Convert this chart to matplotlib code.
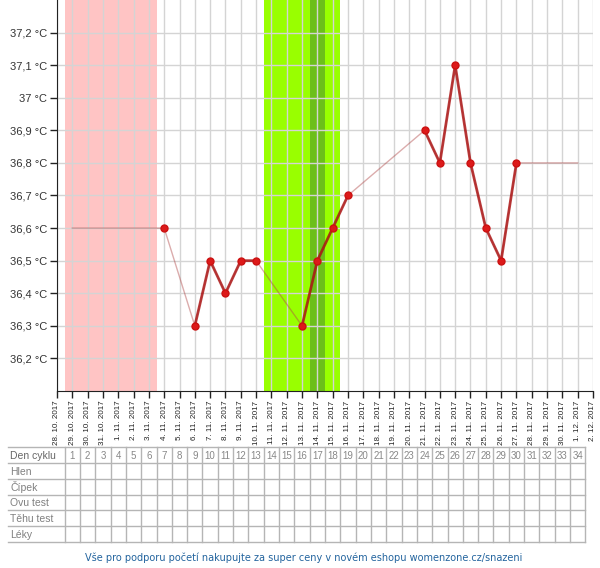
import numpy as np
import pandas as pd
import matplotlib
matplotlib.use('Agg')
import matplotlib.pyplot as plt

# x axis: one tick per day, 28.10.2017 .. 2.12.2017
days = pd.date_range('2017-10-28', '2017-12-02')
date_labels = [f"{d.day}. {d.month}. {d.year}" for d in days]

# cycle day 1 = 29.10.2017, temperatures per cycle day (None = not measured)
cycle_days = list(range(1, 35))
temps = [None, None, None, None, None, None, 36.6, None, 36.3, 36.5,
         36.4, 36.5, 36.5, None, None, 36.3, 36.5, 36.6, 36.7, None,
         None, None, None, 36.9, 36.8, 37.1, 36.8, 36.6, 36.5, 36.8,
         None, None, None, None]

period_days = (1, 6)        # menstruation
fertile_days = (14, 18)     # fertile window
ovulation_day = 17

y_ticks = [36.2, 36.3, 36.4, 36.5, 36.6, 36.7, 36.8, 36.9, 37.0, 37.1, 37.2]
row_labels = ['Den cyklu', 'Hlen', 'Čípek', 'Ovu test', 'Těhu test', 'Léky']
footer = 'Vše pro podporu početí nakupujte za super ceny v novém eshopu womenzone.cz/snazeni'

plt.rcParams['font.family'] = ['Liberation Sans', 'DejaVu Sans']

W, H = 600, 568
fig = plt.figure(figsize=(W / 100, H / 100), dpi=100)
ax = fig.add_axes([57 / W, 1 - 391 / H, 536 / W, 391 / H])

x = np.array(cycle_days, dtype=float)
t = np.array([np.nan if v is None else v for v in temps])
ok = ~np.isnan(t)

# bands
ax.axvspan(period_days[0] - 0.5, period_days[1] + 0.5, color='#ffc4c4', lw=0, zorder=0.1)
ax.axvspan(fertile_days[0] - 0.5, fertile_days[1] + 0.5, color='#99ff00', lw=0, zorder=0.1)
ax.axvspan(ovulation_day - 0.5, ovulation_day + 0.5, color='#6cbf1a', lw=0, zorder=0.15)

# thin connecting line (also extended to first/last cycle day)
xs = np.concatenate([[x[0]], x[ok], [x[-1]]])
ys = np.concatenate([[t[ok][0]], t[ok], [t[ok][-1]]])
ax.plot(xs, ys, color='#b04848', alpha=0.45, lw=1, zorder=2)
# thick line on consecutive days
ax.plot(x, t, color='#aa1111', alpha=0.8, lw=2, zorder=3)
ax.plot(x[ok], t[ok], 'o', color='#dd1a1a', ms=5, mec='#cc1111', zorder=4)

ax.set_xlim(0, len(days) - 1)
ax.set_ylim(36.1, 37.3)
ax.set_xticks(range(len(days)))
ax.set_xticklabels(date_labels, rotation=90, fontsize=5.8, color='#222')
ax.set_yticks(y_ticks)
ax.set_yticklabels([f"{v:g}".replace('.', ',') + ' °C' for v in y_ticks],
                   fontsize=8, color='#333')
ax.tick_params(direction='out', length=5, width=1, color='#222', pad=2)
ax.set_axisbelow(True)
ax.grid(True, color='#d4d4d4', lw=1)
for s in ['top', 'right']:
    ax.spines[s].set_visible(False)
for s in ['left', 'bottom']:
    ax.spines[s].set_color('#222')

# table under the chart, same x units as the chart
tab = fig.add_axes([57 / W, 1 - 542 / H, 536 / W, 95 / H])
tab.set_xlim(0, len(days) - 1)
tab.set_ylim(len(row_labels), 0)
tab.axis('off')
left = (8 - 57) / (536 / (len(days) - 1))
for r in range(len(row_labels) + 1):
    tab.plot([left, cycle_days[-1] + 0.5], [r, r], color='#b5b5b5', lw=1, clip_on=False)
for c in [cycle_days[0] - 0.5] + [d + 0.5 for d in cycle_days]:
    tab.plot([c, c], [0, len(row_labels)], color='#b5b5b5', lw=1, clip_on=False)
for r, lab in enumerate(row_labels):
    tab.text(left + 0.15, r + 0.55, lab, fontsize=7.5, color='#808080' if r else '#666',
             va='center', ha='left', clip_on=False)
for d in cycle_days:
    tab.text(d, 0.55, str(d), fontsize=7, color='#888', ha='center', va='center')

fig.text(304 / W, 1 - 558 / H, footer, fontsize=7, color='#23649e',
         ha='center', va='center', family=['DejaVu Sans'])

fig.savefig('out.png', dpi=100)
